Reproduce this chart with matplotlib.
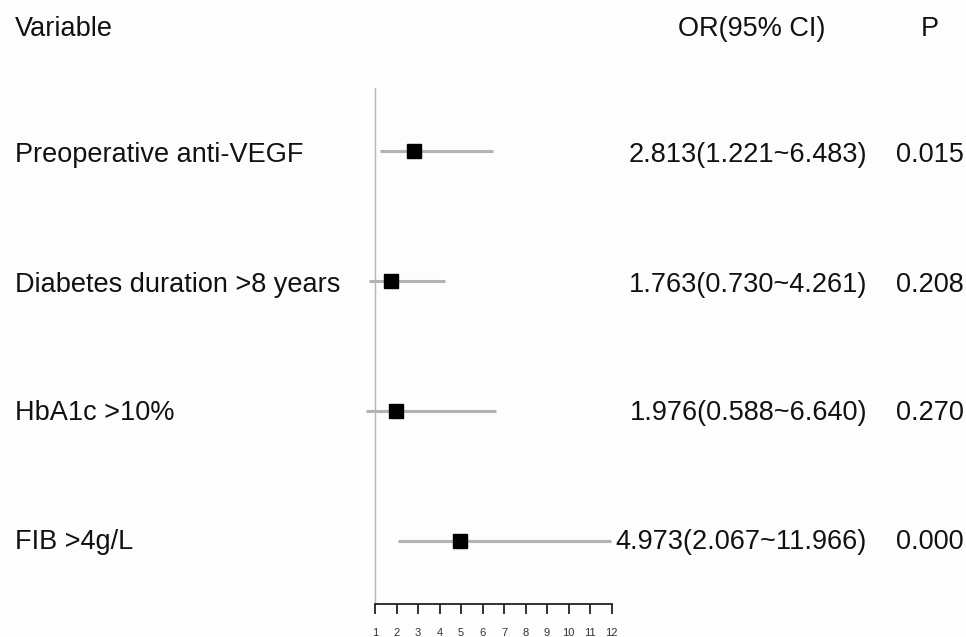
import matplotlib
matplotlib.use("Agg")
import matplotlib.pyplot as plt

# ---------------- Data ----------------
variables = ["Preoperative anti-VEGF", "Diabetes duration >8 years", "HbA1c >10%", "FIB >4g/L"]
odds_ratio = [2.813, 1.763, 1.976, 4.973]
ci_low = [1.221, 0.730, 0.588, 2.067]
ci_high = [6.483, 4.261, 6.640, 11.966]
p_values = ["0.015", "0.208", "0.270", "0.000"]
x_ticks = [1, 2, 3, 4, 5, 6, 7, 8, 9, 10, 11, 12]

W, H = 966, 637
plt.rcParams["font.family"] = ["Liberation Sans", "DejaVu Sans"]

fig = plt.figure(figsize=(W / 100, H / 100), dpi=100)
fig.patch.set_facecolor("#fdfdfd")


def fx(px):
    return px / W


def fy(py):
    return 1 - py / H


# forest axes: x=1 at px 375, x=12 at px 611
ax = fig.add_axes([fx(353.5), fy(604), (633 - 353.5) / W, (604 - 88) / H])
ax.set_facecolor("none")
ax.set_xlim(0, 13)
ax.set_ylim(0.515, 4.485)

n = len(variables)
rows = list(range(n, 0, -1))

ax.axvline(1, color="#b5b5b5", lw=1.0, zorder=1)
for y, lo, hi, orv in zip(rows, ci_low, ci_high, odds_ratio):
    ax.plot([lo, hi], [y, y], color="#b3b3b3", lw=2.2, solid_capstyle="butt", zorder=2)
    ax.plot(orv, y, marker="s", color="black", markersize=9.5, zorder=3)

for s in ["top", "right", "left"]:
    ax.spines[s].set_visible(False)
ax.spines["bottom"].set_bounds(1, 12)
ax.spines["bottom"].set_linewidth(1.3)
ax.spines["bottom"].set_color("#222222")
ax.set_xticks(x_ticks)
ax.set_xticklabels([str(t) for t in x_ticks])
ax.tick_params(axis="x", direction="out", length=7, width=1.3, color="#222222",
               labelsize=8, labelcolor="#333333", pad=10)
ax.set_yticks([])

# ---------------- Text columns ----------------
fs = 19.5
fig.text(fx(15), fy(29), "Variable", fontsize=fs, va="center", ha="left", color="#111111")
fig.text(fx(752), fy(29), "OR(95% CI)", fontsize=fs, va="center", ha="center", color="#111111")
fig.text(fx(930), fy(29), "P", fontsize=fs, va="center", ha="center", color="#111111")

row_px = [155, 285, 413, 542]
for py, var, orv, lo, hi, p in zip(row_px, variables, odds_ratio, ci_low, ci_high, p_values):
    fig.text(fx(15), fy(py), var, fontsize=fs, va="center", ha="left", color="#111111")
    fig.text(fx(867), fy(py), f"{orv:.3f}({lo:.3f}~{hi:.3f})", fontsize=fs,
             va="center", ha="right", color="#111111")
    fig.text(fx(896), fy(py), p, fontsize=fs, va="center", ha="left", color="#111111")

fig.savefig("out.png", dpi=100, facecolor=fig.get_facecolor())
